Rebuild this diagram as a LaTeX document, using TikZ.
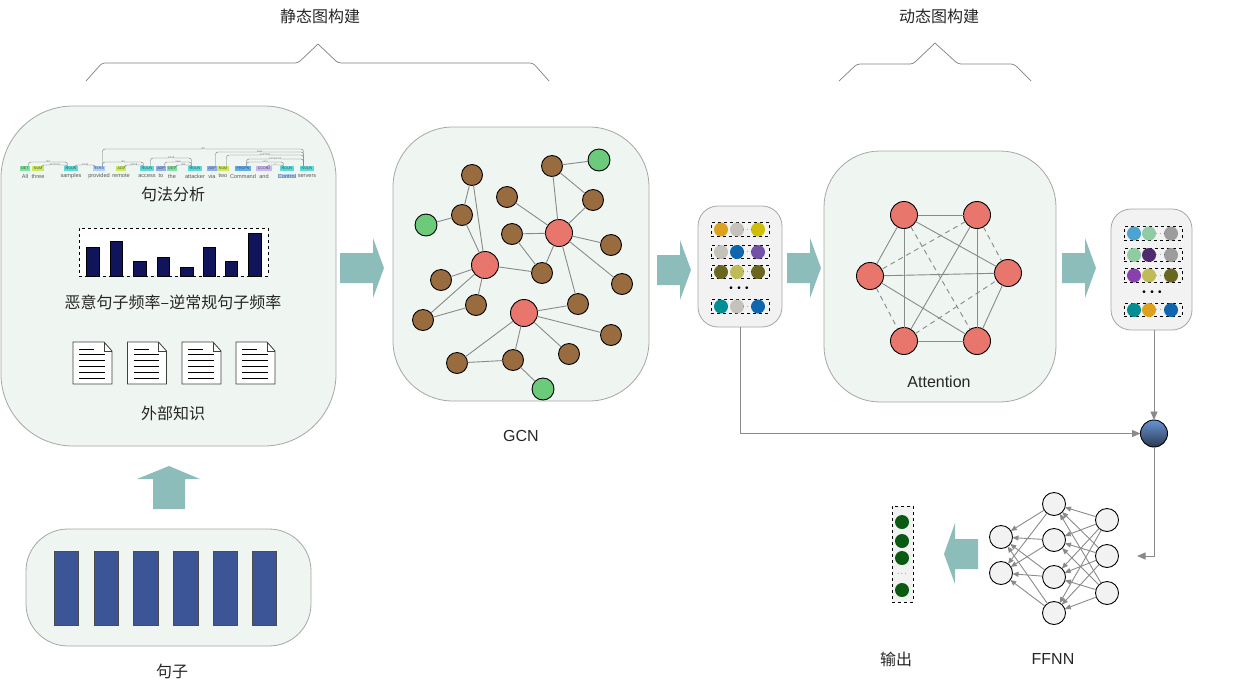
\documentclass[tikz,border=0pt]{standalone}
\usepackage{fontspec}
\setmainfont{Liberation Sans}
\newfontfamily\cjk{Noto Sans CJK SC}
\usetikzlibrary{arrows.meta}

\definecolor{panelgreen}{HTML}{EFF5F1}
\definecolor{panelgray}{HTML}{F2F2F2}
\definecolor{panelline}{HTML}{A6A6A6}
\definecolor{linkgray}{HTML}{8A8A8A}
\definecolor{flowteal}{HTML}{8CBDBA}
\definecolor{barblue}{HTML}{3B5597}
\definecolor{barnavy}{HTML}{10145A}
\definecolor{nodebrown}{HTML}{996C40}
\definecolor{nodegreen}{HTML}{6BCB7B}
\definecolor{nodered}{HTML}{E8766C}
\definecolor{outgreen}{HTML}{0B5A14}
\definecolor{balltop}{HTML}{6694D6}
\definecolor{ballbottom}{HTML}{2E3A50}
\definecolor{vamber}{HTML}{DCA11D}
\definecolor{vstone}{HTML}{C4C2BA}
\definecolor{vlime}{HTML}{CDBE08}
\definecolor{vblue}{HTML}{0F66AE}
\definecolor{vpurple}{HTML}{7152A8}
\definecolor{volive}{HTML}{69671F}
\definecolor{vkhaki}{HTML}{BFBB57}
\definecolor{vteal}{HTML}{008E93}
\definecolor{vsky}{HTML}{4FA3D1}
\definecolor{vmint}{HTML}{8FCBA3}
\definecolor{vgray}{HTML}{9C9C9C}
\definecolor{vplum}{HTML}{4F2A6F}
\definecolor{vorchid}{HTML}{8A3FAE}
\definecolor{tagdet}{HTML}{7FE0A0}
\definecolor{tagnum}{HTML}{CDE85A}
\definecolor{tagnoun}{HTML}{5FD8D8}
\definecolor{tagverb}{HTML}{ACD0FF}
\definecolor{tagadp}{HTML}{8FAEF0}
\definecolor{tagpropn}{HTML}{5FB0F0}
\definecolor{tagcconj}{HTML}{C8B8F0}

\begin{document}
\begin{tikzpicture}[
    x=1pt, y=-1pt,
    panel/.style={draw=panelline, fill=panelgreen, line width=0.8pt, inner sep=0pt, outer sep=0pt},
    minipanel/.style={panel, fill=panelgray, minimum width=84pt, minimum height=121pt, rounded corners=20pt},
    caption/.style={font=\fontsize{16}{18}\selectfont\cjk, text=black!85},
    latin/.style={font=\fontsize{16}{18}\selectfont, text=black!85},
    graphnode/.style={circle, draw=black, line width=0.9pt, inner sep=0pt, outer sep=0pt},
    brown/.style={graphnode, fill=nodebrown, minimum size=21pt},
    leaf/.style={graphnode, fill=nodegreen, minimum size=22pt},
    hub/.style={graphnode, fill=nodered, minimum size=27pt},
    neuron/.style={graphnode, fill=panelgray, minimum size=23pt},
    dot/.style={circle, inner sep=0pt, outer sep=0pt, minimum size=14pt},
    rowbox/.style={draw=black, dashed, line width=0.7pt, minimum width=58pt, minimum height=13.5pt, inner sep=0pt},
    tinydots/.style={inner sep=0pt, font=\fontsize{7}{7}\selectfont},
    wide dots/.style={inner sep=0pt, font=\fontsize{10}{10}\selectfont},
    edge/.style={draw=linkgray, line width=0.9pt},
    softedge/.style={edge, dashed, dash pattern=on 5pt off 4pt},
    link/.style={draw=linkgray, line width=0.9pt, -{Triangle[length=8.5pt, width=7pt]}},
    netlink/.style={link, -{Triangle[length=6pt, width=5pt]}},
    flow/.style={fill=flowteal},
    brace/.style={draw=gray, line width=0.7pt},
    pos tag/.style={inner xsep=1.5pt, inner ysep=0pt, outer sep=0pt, minimum height=5pt, font=\fontsize{3.6}{4}\selectfont, text=black!70},
    word/.style={inner sep=0pt, font=\fontsize{5.6}{6}\selectfont, text=black!65},
    deparc/.style={draw=black!55, line width=0.4pt, rounded corners=2.5pt},
    deplabel/.style={inner sep=0pt, fill=panelgreen, font=\fontsize{2.6}{3}\selectfont, text=black!60}
]
\useasboundingbox (0,0) rectangle (1249,686);

% Titles and braces
\node[caption] (statictitle) at (320,16) {静态图构建};
\node[caption] (dynamictitle) at (939,16) {动态图构建};
\draw[brace, rounded corners=3pt] (86,81) -- (102,63) -- (298,63) [sharp corners] -- (318,44)
    [rounded corners=3pt] -- (338,63) -- (533,63) -- (549,81);
\draw[brace, rounded corners=3pt] (839,81) -- (857,64) -- (913,64) [sharp corners] -- (935,43)
    [rounded corners=3pt] -- (958,64) -- (1014,64) -- (1031,81);

% Panels
\node[panel, minimum width=335pt, minimum height=340pt, rounded corners=72pt] (syntaxpanel) at (168.5,276) {};
\node[panel, minimum width=285pt, minimum height=117pt, rounded corners=42pt] (sentpanel) at (168.5,587.5) {};
\node[panel, minimum width=256pt, minimum height=274pt, rounded corners=60pt] (gcnpanel) at (521,264) {};
\node[panel, minimum width=232pt, minimum height=251pt, rounded corners=56pt] (attnpanel) at (940,276.5) {};
\node[minipanel] (embedpanel) at (740,266.5) {};
\node[minipanel, minimum width=81pt] (attnvecpanel) at (1151.5,269.5) {};

% Flow arrows
\foreach \sx/\tx/\my in {340/384/268, 657/691/270, 787/821/268, 1062/1096/268}
    \fill[flow] (\sx,\my-15) -- (\tx-11,\my-15) -- (\tx-11,\my-30) -- (\tx,\my)
        -- (\tx-11,\my+30) -- (\tx-11,\my+15) -- (\sx,\my+15) -- cycle;
\fill[flow] (153,509) -- (153,479) -- (137,479) -- (169,466) -- (200,479) -- (185,479) -- (185,509) -- cycle;
\fill[flow] (978,539) -- (955,539) -- (955,523) -- (944,554) -- (955,584) -- (955,569) -- (978,569) -- cycle;

% Sentence
\foreach \bx in {54,94,133.5,173.5,213,252}
    \fill[barblue, draw=black!70, line width=0.3pt] (\bx,551) rectangle (\bx+24.5,625);
\node[caption] (sentlabel) at (172,671) {句子};

% Dependency parse
\foreach \tx/\tcol/\tname/\wname [count=\i] in {25/tagdet/DET/All, 38/tagnum/NUM/three, 71/tagnoun/NOUN/samples,
    99/tagverb/VERB/provided, 121/tagnum/ADJ/remote, 147/tagnoun/NOUN/access, 161/tagadp/ADP/to, 172/tagdet/DET/the,
    195/tagnoun/NOUN/attacker, 212/tagadp/ADP/via, 223/tagnum/NUM/two, 243/tagpropn/PROPN/Command,
    264/tagcconj/CCONJ/and, 287/tagnoun/NOUN/Control, 307/tagnoun/NOUN/servers} {
    \node[pos tag, fill=\tcol] (t\i) at (\tx,168.5) {\tname};
    \ifnum\i=14
        \node[word, fill=tagverb] (w\i) at (\tx,176) {\wname};
    \else
        \node[word] (w\i) at (\tx,176) {\wname};
    \fi
}
\foreach \a/\b/\h/\rel in {1/3/4/det, 2/3/1/nummod, 3/4/1/nsubj, 4/15/17/obl, 5/6/1/amod, 4/6/4/obj, 6/9/8/nmod,
    7/9/4/case, 8/9/1/det, 10/15/14/case, 11/15/11/nummod, 12/15/7/compound, 12/14/4/conj, 13/14/1/cc}
    \draw[deparc] ([xshift=3.5pt]t\a.north) -- ++(0,-\h) -| ([xshift=-3.5pt]t\b.north) node[deplabel, pos=0.25] {\rel};
\node[caption] (syntaxlabel) at (173,194) {句法分析};

% Bar chart
\node[draw=black, dashed, line width=0.7pt, fill=white, minimum width=189pt, minimum height=48pt, inner sep=0pt] (barbox) at (173.5,252) {};
\foreach \bx/\bw/\by in {86/13/247, 110/12/241, 133/13/261, 157/12/257, 180/13/267, 203/12/247, 225/12/261, 248/13/233}
    \fill[barnavy, draw=black, line width=0.3pt] (\bx,\by) rectangle (\bx+\bw,276);
\node[caption] (freqlabel) at (173,302) {恶意句子频率–逆常规句子频率};

% Documents
\foreach \dx in {0,54.5,109,163} {
    \begin{scope}[shift={(\dx,0)}]
    \draw[fill=white, draw=black!75, line width=0.8pt] (73,342) -- (104,342) -- (112,351) -- (112,384) -- (73,384) -- cycle;
    \draw[draw=black!75, line width=0.6pt] (104,342) -- (104,351) -- (112,351);
    \draw[line width=0.7pt] (79,349.3) -- (94,349.3);
    \foreach \ly in {354.7,360.3,366.3,372.3,378.3}
        \draw[line width=0.7pt] (79,\ly) -- (104.5,\ly);
    \end{scope}
}
\node[caption] (kblabel) at (173,413) {外部知识};

% GCN nodes
\node[hub] (r1) at (485,265) {};
\node[hub] (r2) at (559,233) {};
\node[hub] (r3) at (524,313) {};
\node[leaf] (g1) at (426,225) {};
\node[leaf] (g2) at (599,160) {};
\node[leaf] (g3) at (543,389) {};
\foreach \nx/\ny [count=\i] in {472/175, 462/215, 441/280, 476/305, 423/320, 457/363, 513/360, 569/354,
    611/335, 578/304, 542/273, 512/234, 507/197, 552/166, 593/200, 611/245, 622/284}
    \node[brown] (b\i) at (\nx,\ny) {};

% GCN edges
\foreach \u/\v in {b1/b2, b1/r1, b2/r1, g1/b2, r1/b3, r1/b4, r1/b5, b5/b4, r1/b11, b12/b11, b12/r2, b13/r2, b11/r2,
    r2/b14, b14/g2, b14/b15, b15/r2, r2/b16, r2/b17, r2/b10, b10/r3, r3/b9, r3/b8, r3/b7, r3/b6, b6/b7, b7/g3}
    \draw[edge] (\u) -- (\v);
\node[latin] (gcnlabel) at (521,436) {GCN};

% Embedding rows
\foreach \ry/\ca/\cb/\cc [count=\i] in {229.5/vamber/vstone/vlime, 252/vstone/vblue/vpurple, 272/volive/vkhaki/volive, 306.5/vteal/vstone/vblue} {
    \node[rowbox] (erow\i) at (740,\ry) {};
    \node[dot, fill=\ca] (ea\i) at (721,\ry) {};
    \node[dot, fill=\cb] (eb\i) at (737,\ry) {};
    \node[dot, fill=\cc] (ec\i) at (758,\ry) {};
    \node[tinydots] (ed\i) at (747.5,\ry) {$\cdots$};
}
\node[wide dots] (emore) at (739,289) {•\ \,•\ \,•};

% Attention nodes
\node[hub] (a1) at (904,215) {};
\node[hub] (a2) at (977,215) {};
\node[hub] (a3) at (870,276) {};
\node[hub] (a4) at (1008,273) {};
\node[hub] (a5) at (904,341) {};
\node[hub] (a6) at (977,341) {};

% Attention edges
\foreach \u/\v in {a1/a2, a1/a3, a1/a5, a1/a4, a2/a5, a2/a6, a3/a4, a3/a6, a4/a6, a5/a6}
    \draw[edge] (\u) -- (\v);
\foreach \u/\v in {a2/a3, a1/a6, a2/a4, a3/a5, a5/a4}
    \draw[softedge] (\u) -- (\v);
\node[latin] (attnlabel) at (939,382) {Attention};

% Attention output rows
\foreach \ry/\ca/\cb/\cc [count=\i] in {233.5/vsky/vmint/vgray, 255/vmint/vplum/vgray, 275.5/vorchid/vkhaki/volive, 310/vteal/vamber/vblue} {
    \node[rowbox] (vrow\i) at (1153,\ry) {};
    \node[dot, fill=\ca] (va\i) at (1134,\ry) {};
    \node[dot, fill=\cb] (vb\i) at (1149,\ry) {};
    \node[dot, fill=\cc] (vc\i) at (1171,\ry) {};
    \node[tinydots] (vd\i) at (1160.5,\ry) {$\cdots$};
}
\node[wide dots] (vmore) at (1152,293) {•\ \,•\ \,•};

% Merge point
\node[circle, draw=black, line width=0.9pt, top color=balltop, bottom color=ballbottom, minimum size=27pt, inner sep=0pt, outer sep=0pt] (merge) at (1154,433.5) {};
\coordinate (ffnnin) at (1137,556);
\draw[link] (embedpanel.south) |- (merge.west);
\draw[link] (attnvecpanel.south -| merge.north) -- (merge.north);
\draw[link] (merge.south) |- (ffnnin);

% FFNN nodes
\foreach \ny [count=\i] in {537,573}
    \node[neuron] (o\i) at (1001,\ny) {};
\foreach \ny [count=\i] in {504,540,577,613}
    \node[neuron] (h\i) at (1054,\ny) {};
\foreach \ny [count=\i] in {520,556,593}
    \node[neuron] (n\i) at (1107,\ny) {};

% FFNN edges
\foreach \i in {1,2,3}
    \foreach \j in {1,2,3,4}
        \draw[netlink] (n\i) -- (h\j);
\foreach \j in {1,2,3,4}
    \foreach \k in {1,2}
        \draw[netlink] (h\j) -- (o\k);
\node[latin] (ffnnlabel) at (1053,659) {FFNN};

% Output
\node[draw=black, dashed, line width=0.7pt, fill=panelgray, minimum width=21pt, minimum height=96pt, inner sep=0pt] (outbox) at (902.5,554) {};
\foreach \ny [count=\i] in {522,541,558,590}
    \node[dot, fill=outgreen] (out\i) at (902,\ny) {};
\node[tinydots] (outdots) at (902,574) {$\cdots$};
\node[caption] (outlabel) at (896,659) {输出};
\end{tikzpicture}
\end{document}
